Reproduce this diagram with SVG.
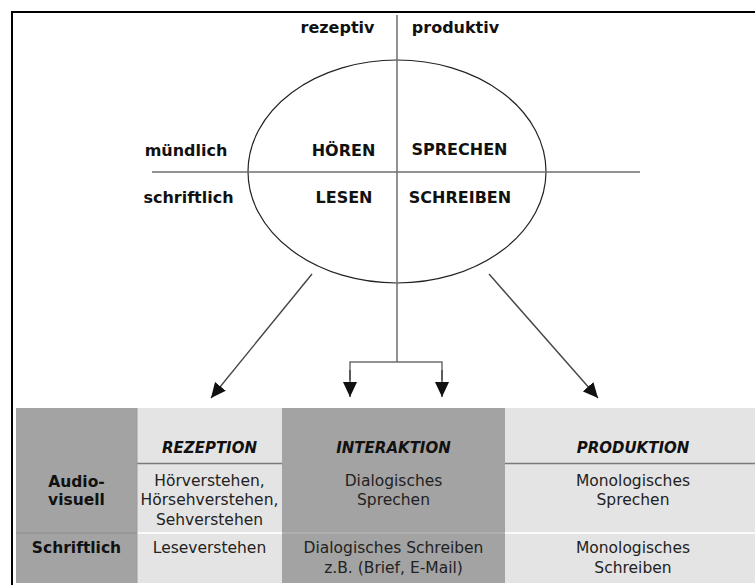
<svg xmlns="http://www.w3.org/2000/svg" width="755" height="585" viewBox="0 0 755 585">
<style>
.lbl{font-family:"DejaVu Sans","Liberation Sans",sans-serif;font-weight:bold;font-size:16px;fill:#111;text-anchor:middle}
.hdr{font-family:"DejaVu Sans","Liberation Sans",sans-serif;font-weight:bold;font-style:italic;font-size:15px;fill:#111;text-anchor:middle}
.cell{font-family:"DejaVu Sans","Liberation Sans",sans-serif;font-size:15.5px;fill:#222;text-anchor:middle}
.rowh{font-family:"DejaVu Sans","Liberation Sans",sans-serif;font-weight:bold;font-size:15.5px;fill:#111;text-anchor:middle}
.dark{fill:#a3a3a3}
.light{fill:#e4e4e4}
.axis{stroke:#6e6e6e;stroke-width:1.5;fill:none}
.arr{stroke:#444;stroke-width:1.4;fill:none;marker-end:url(#ah)}
</style>
<defs>
<marker id="ah" markerUnits="userSpaceOnUse" markerWidth="16" markerHeight="14" refX="15" refY="7" orient="auto">
<path d="M0,0 L15,7 L0,14 z" fill="#111"/>
</marker>
</defs>
<rect width="755" height="585" fill="#fff"/>
<path d="M12,585 V12 H755" fill="none" stroke="#000" stroke-width="2"/>

<g id="quadrant">
<ellipse cx="397" cy="171.5" rx="149" ry="111.5" fill="none" stroke="#222" stroke-width="1.2"/>
<line class="axis" x1="152" y1="172" x2="640" y2="172"/>
</g>

<g id="connectors">
<path class="axis" d="M397,15 V362"/>
<path class="axis" d="M350,380 V362 H442 V380"/>
<line class="arr" x1="350" y1="370" x2="350" y2="397"/>
<line class="arr" x1="442" y1="370" x2="442" y2="397"/>
<line class="arr" x1="312" y1="274" x2="211" y2="398"/>
<line class="arr" x1="489" y1="274" x2="598" y2="398"/>
</g>

<g id="rezeptiv"><text class="lbl" x="337.5" y="33">rezeptiv</text></g>
<g id="produktiv"><text class="lbl" x="455.5" y="33">produktiv</text></g>
<g id="muendlich"><text class="lbl" x="186" y="156">mündlich</text></g>
<g id="schriftlich"><text class="lbl" x="188.5" y="203">schriftlich</text></g>
<g id="hoeren"><text class="lbl" x="343.5" y="156">HÖREN</text></g>
<g id="sprechen"><text class="lbl" x="459.5" y="155">SPRECHEN</text></g>
<g id="lesen"><text class="lbl" x="344" y="203">LESEN</text></g>
<g id="schreiben"><text class="lbl" x="460" y="203">SCHREIBEN</text></g>

<g id="table">
<rect class="dark" x="16" y="408" width="121" height="175"/>
<rect class="light" x="137" y="408" width="145" height="175"/>
<rect class="dark" x="282" y="408" width="223" height="175"/>
<rect class="light" x="505" y="408" width="250" height="175"/>
<line x1="137" y1="463.5" x2="282" y2="463.5" stroke="#7a7a7a" stroke-width="1.3"/>
<line x1="505" y1="463.5" x2="755" y2="463.5" stroke="#7a7a7a" stroke-width="1.3"/>
<line x1="137" y1="533" x2="282" y2="533" stroke="#fafafa" stroke-width="2"/>
<line x1="505" y1="533" x2="755" y2="533" stroke="#fafafa" stroke-width="2"/>
<line x1="16" y1="533" x2="137" y2="533" stroke="#8c8c8c" stroke-width="1.2"/>
<line x1="282" y1="533" x2="505" y2="533" stroke="#b4b4b4" stroke-width="1.5"/>
<line x1="137" y1="408" x2="137" y2="583" stroke="#9a9a9a" stroke-width="1"/>
</g>

<g id="h-rezeption"><text class="hdr" x="209.5" y="452.5">REZEPTION</text></g>
<g id="h-interaktion"><text class="hdr" x="393.5" y="452.5">INTERAKTION</text></g>
<g id="h-produktion"><text class="hdr" x="633" y="452.5">PRODUKTION</text></g>

<g id="r-audiovisuell"><text class="rowh" x="76.5" y="487">Audio-</text><text class="rowh" x="76.5" y="505">visuell</text></g>
<g id="r-schriftlich"><text class="rowh" x="76.5" y="553">Schriftlich</text></g>

<g id="c-rez-av"><text class="cell" x="209.5" y="486">Hörverstehen,</text><text class="cell" x="209.5" y="505">Hörsehverstehen,</text><text class="cell" x="209.5" y="525">Sehverstehen</text></g>
<g id="c-int-av"><text class="cell" x="393.5" y="486">Dialogisches</text><text class="cell" x="393.5" y="505">Sprechen</text></g>
<g id="c-pro-av"><text class="cell" x="633" y="486">Monologisches</text><text class="cell" x="633" y="505">Sprechen</text></g>
<g id="c-rez-s"><text class="cell" x="209.5" y="553">Leseverstehen</text></g>
<g id="c-int-s"><text class="cell" x="393.5" y="553">Dialogisches Schreiben</text><text class="cell" x="393.5" y="573">z.B. (Brief, E-Mail)</text></g>
<g id="c-pro-s"><text class="cell" x="633" y="553">Monologisches</text><text class="cell" x="633" y="573">Schreiben</text></g>
</svg>
